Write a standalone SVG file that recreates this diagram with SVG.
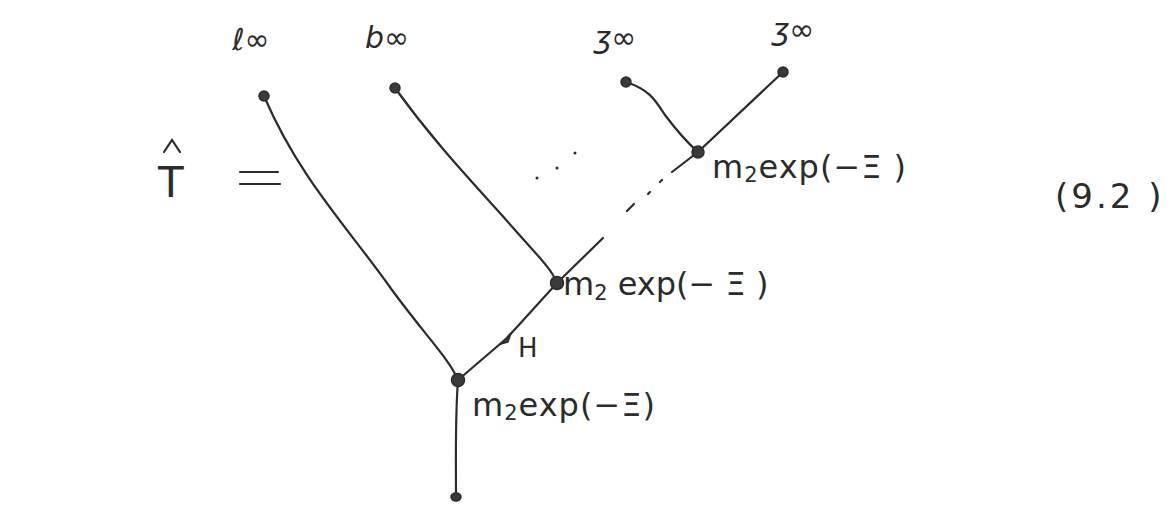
<svg xmlns="http://www.w3.org/2000/svg" width="1175" height="518" viewBox="0 0 1175 518">
<style>
.e{fill:none;stroke:#2b2b2b;stroke-width:2.2;stroke-linecap:round}
.v{fill:#3a3a3a;stroke:#2b2b2b;stroke-width:1.5}
.t{font-family:"DejaVu Sans",sans-serif;fill:#2b2b2b}
.lab{font-size:32px}
.top{font-size:30px;font-style:italic}
</style>
<rect width="1175" height="518" fill="#ffffff"/>
<g id="lhs">
<text class="t" x="158" y="197" font-size="42" font-family="DejaVu Sans">T</text>
<path class="e" d="M164 152 L172 140 L180 152"/>
<path class="e" d="M240 172 H278 M240 184 H280"/>
</g>
<g id="connectors">
<path class="e" d="M264 96 C300 180 350 230 392 290 C425 335 450 360 458 380"/>
<path class="e" d="M395 88 C440 150 480 190 515 230 C540 258 552 270 557 283"/>
<path class="e" d="M626 82 C650 90 655 100 665 115 C680 135 690 145 698 152"/>
<path class="e" d="M783 72 L698 152"/>
<path class="e" d="M458 380 L507 338 L557 283"/>
<path class="e" d="M557 283 L603 238"/>
<path class="e" d="M627 211 L634 204 M648 194 L650 192 M660 182 L662 180 M672 172 L698 152" />
<path class="e" d="M458 380 C455 420 456 460 456 498"/>
<path class="v" d="M501 344 L511 333 L508 342 Z"/>
</g>
<g id="dots">
<circle cx="537" cy="178" r="1.5" fill="#2b2b2b"/>
<circle cx="557" cy="168" r="1.5" fill="#2b2b2b"/>
<circle cx="575" cy="153" r="1.5" fill="#2b2b2b"/>
</g>
<g id="leaf1"><circle class="v" cx="264" cy="96" r="5"/><text class="t top" x="232" y="50">ℓ∞</text></g>
<g id="leaf2"><circle class="v" cx="395" cy="88" r="5"/><text class="t top" x="365" y="48">b∞</text></g>
<g id="leaf3"><circle class="v" cx="626" cy="82" r="5"/><text class="t top" x="594" y="48">ʒ∞</text></g>
<g id="leaf4"><circle class="v" cx="783" cy="72" r="5"/><text class="t top" x="772" y="40">ʒ∞</text></g>
<g id="vertexA"><circle class="v" cx="698" cy="152" r="6"/><text class="t lab" x="712" y="178" letter-spacing="1">m<tspan font-size="21" dy="4">2</tspan><tspan dy="-4">exp(−Ξ )</tspan></text></g>
<g id="vertexB"><circle class="v" cx="557" cy="283" r="6.5"/><text class="t lab" x="563" y="295">m<tspan font-size="21" dy="5">2</tspan><tspan dy="-5"> exp(− Ξ )</tspan></text></g>
<g id="vertexC"><circle class="v" cx="458" cy="380" r="6.5"/><text class="t lab" x="472" y="416" letter-spacing="1">m<tspan font-size="21" dy="4">2</tspan><tspan dy="-4">exp(−Ξ)</tspan></text></g>
<g id="root"><ellipse class="v" cx="456" cy="497" rx="5" ry="4"/></g>
<text class="t" x="518" y="357" font-size="26">H</text>
<text class="t" x="1055" y="208" font-size="34" letter-spacing="3">(9.2 )</text>
</svg>
